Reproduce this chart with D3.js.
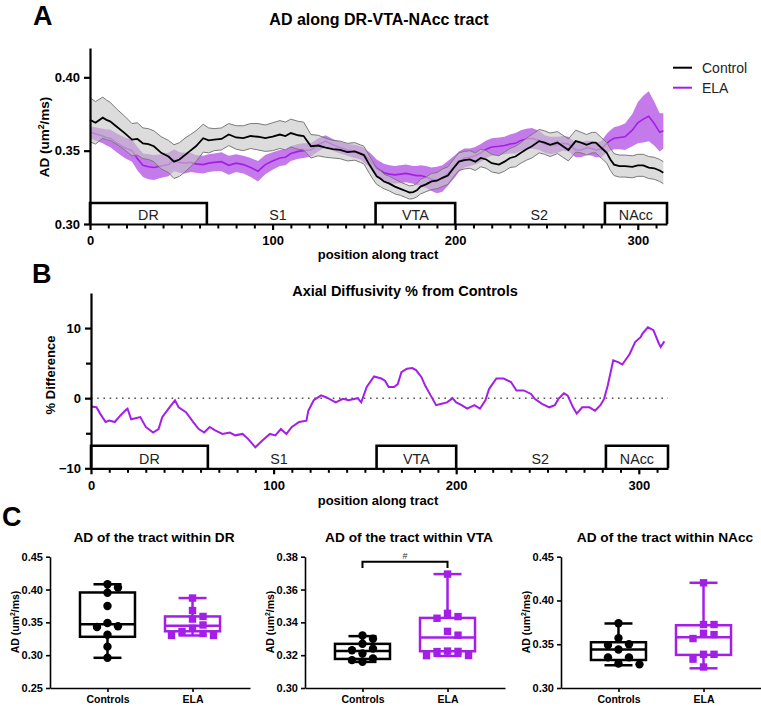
<!DOCTYPE html>
<html><head><meta charset="utf-8">
<script src="https://cdn.jsdelivr.net/npm/d3@7"></script>
<style>body{margin:0;background:#fff} svg{display:block}</style>
</head><body><svg id="c" width="761" height="706"></svg>
<script>
// ---------------- DATA ----------------
const tractPos = [0,3,7,9,11,15,19,23,26,29,
 32,35,39,43,46,49,52,55,58,62,
 65,68,72,76,80,84,88,92,96,100,
 104,107,110,114,117,121,125,129,133,137,
 141,145,148,150,153,155,157,159,161,164,
 167,170,173,175,177,179,181,184,187,190,
 193,196,200,202,205,208,211,214,217,220,
 224,227,230,233,236,239,242,246,249,252,
 256,259,262,266,269,272,275,277,280,283,
 285,287,290,293,297,300,303,306,309,312,
 314];
const ctrlMean = [.371,.369,.3725,.371,.370,.366,.362,.3575,.358,.355,
 .3545,.353,.3485,.346,.3425,.344,.347,.350,.353,.3585,
 .357,.3575,.358,.361,.359,.3585,.360,.3595,.3585,.3595,
 .361,.360,.362,.3605,.360,.353,.3535,.352,.351,.3505,
 .349,.3495,.348,.347,.3405,.3365,.3325,.331,.329,.3275,
 .3255,.324,.3225,.3215,.3218,.323,.3255,.327,.329,.3295,
 .3315,.333,.3395,.3425,.3435,.344,.3425,.345,.344,.3415,
 .3405,.3425,.345,.346,.3485,.351,.353,.3565,.3555,.354,
 .3555,.353,.3505,.3565,.3555,.354,.3555,.3555,.352,.3485,
 .344,.3405,.3395,.3395,.339,.340,.340,.3385,.338,.3365,
 .335];
const ctrlSem = [.015,.0145,.014,.0135,.013,.012,.0115,.011,.011,.0105,
 .0105,.0105,.011,.011,.0115,.0115,.0115,.011,.0105,.0095,
 .0085,.0075,.0075,.0075,.008,.0085,.0085,.009,.009,.0095,
 .0095,.0095,.0095,.0095,.0095,.008,.007,.0065,.006,.006,
 .006,.006,.006,.006,.006,.006,.0055,.0055,.005,.005,
 .005,.0045,.0045,.0045,.0045,.0045,.005,.005,.0055,.0055,
 .006,.006,.006,.006,.006,.006,.006,.006,.006,.006,
 .006,.0065,.0065,.007,.007,.0075,.008,.008,.008,.008,
 .0075,.0075,.0075,.0075,.007,.007,.007,.007,.007,.007,
 .0075,.0075,.0075,.0075,.0075,.0075,.0075,.0075,.0075,.0075,
 .0075];
const elaMean = [.3625,.3615,.360,.359,.3585,.355,.352,.350,.3445,.340,
 .339,.3385,.3395,.3405,.3435,.342,.3415,.342,.341,.3405,
 .3415,.342,.3425,.340,.3415,.3405,.3385,.336,.3405,.343,
 .345,.3455,.348,.3495,.350,.3505,.354,.3565,.354,.352,
 .3505,.3495,.3485,.347,.344,.341,.338,.3365,.335,.334,
 .3335,.334,.3345,.334,.3335,.333,.333,.332,.3305,.330,
 .331,.3345,.3395,.3425,.345,.3455,.3465,.3485,.351,.3525,
 .353,.3535,.3545,.355,.357,.358,.3585,.357,.3545,.3535,
 .354,.355,.3545,.3505,.3505,.352,.3515,.3505,.351,.355,
 .357,.3585,.359,.3595,.364,.369,.3715,.3735,.3685,.3625,
 .3635];
const elaSem = [.004,.0045,.005,.0055,.006,.0065,.007,.0075,.008,.008,
 .0085,.0085,.008,.008,.0075,.007,.007,.0065,.006,.006,
 .006,.006,.0065,.0065,.006,.006,.0065,.007,.0065,.006,
 .0055,.0055,.005,.005,.005,.0045,.0045,.004,.004,.004,
 .004,.0045,.0045,.005,.005,.0055,.006,.006,.006,.006,
 .006,.006,.006,.006,.006,.0065,.007,.0075,.008,.009,
 .009,.0085,.0075,.007,.0065,.006,.006,.006,.006,.006,
 .006,.006,.0065,.007,.007,.007,.007,.0065,.006,.006,
 .0055,.005,.005,.005,.005,.005,.005,.005,.0055,.0065,
 .007,.0075,.008,.009,.011,.014,.016,.017,.015,.013,
 .012];
const diffPos = [0,3,5,8,10,13,16,19,20,22,
 27,30,34,37,39,43,46,48,52,56,
 59,62,65,68,72,76,79,83,86,90,
 94,98,101,104,107,110,114,118,119,122,
 126,129,134,138,141,146,148,151,155,159,
 161,163,166,168,170,173,176,178,181,183,
 186,189,192,195,198,200,203,206,210,213,
 216,218,222,226,230,233,237,241,243,247,
 251,254,256,259,261,264,266,269,273,276,
 279,281,283,286,289,291,295,298,301,302,
 305,308,311,312,314];
const diffVal = [-1.2,-1.3,-2.2,-3.4,-3.2,-3.4,-2.5,-1.7,-1.5,-3.0,
 -2.7,-4.1,-4.9,-4.4,-2.7,-1.3,-0.3,-1.3,-2.0,-3.4,
 -4.4,-4.9,-4.1,-4.6,-5.1,-4.9,-5.3,-5.1,-5.8,-7.0,
 -6.0,-5.1,-5.3,-4.4,-5.1,-4.1,-3.4,-3.2,-1.8,-0.3,
 0.4,0.1,-0.6,-0.1,-0.3,0.0,-0.6,1.6,3.1,2.8,
 2.5,1.6,1.6,2.0,3.7,4.2,4.3,4.0,3.0,1.8,
 0.4,-1.0,-0.8,-0.6,0.0,-0.6,-1.0,-1.5,-1.0,-1.5,
 -0.3,1.3,2.8,2.8,2.3,1.1,1.1,0.6,-0.1,-0.8,
 -1.3,-1.0,-0.1,0.7,0.4,-1.3,-2.2,-1.3,-1.3,-1.8,
 -1.0,-0.1,1.8,5.4,5.1,4.8,6.3,8.0,8.7,9.2,
 10.1,9.7,7.8,7.3,8.1];

const regionNames = ["DR","VTA","NAcc"];
const regionStart = [0,156.4,282];
const regionEnd = [64,200,316];
const gapNames = ["S1","S2"];
const gapPos = [103,246];
const xTicks = [0,100,200,300];
const adTicks = [0.30,0.35,0.40];
const diffTicks = [-10,0,10];
const diffMinor = [-5,5];

const groups = ["Controls","ELA"];
const drCtrl = [0.408,0.403,0.395,0.375,0.349,0.344,0.343,0.331,0.313,0.296];
const drEla = [0.387,0.368,0.359,0.355,0.346,0.341,0.336,0.333,0.330,0.330];
const drCtrlBox = [0.296,0.328,0.347,0.3955,0.408];
const drElaBox = [0.330,0.3364,0.345,0.359,0.387];
const vtaCtrl = [0.332,0.330,0.327,0.324,0.323,0.321,0.318,0.317,0.316];
const vtaEla = [0.3694,0.3455,0.3435,0.3425,0.3345,0.3322,0.3225,0.3223,0.3222,0.3198,0.3197];
const vtaCtrlBox = [0.3159,0.3177,0.3226,0.3269,0.3316];
const vtaElaBox = [0.3195,0.3224,0.3307,0.3427,0.3694];
const naccCtrl = [0.374,0.357,0.350,0.349,0.344,0.335,0.335,0.328,0.327];
const naccEla = [0.4202,0.3725,0.3725,0.3625,0.361,0.3565,0.3385,0.3385,0.333,0.324];
const naccCtrlBox = [0.326,0.332,0.3439,0.3523,0.3737];
const naccElaBox = [0.3225,0.3378,0.358,0.3717,0.4202];
const drTicks = [0.25,0.30,0.35,0.40,0.45];
const vtaTicks = [0.30,0.32,0.34,0.36,0.38];
const naccTicks = [0.30,0.35,0.40,0.45];

// ---------------- DRAW ----------------
const FONT = '"Liberation Sans", Arial, Helvetica, sans-serif';
const PURPLE = "#A31FE8";
const svg = d3.select("#c").attr("font-family", FONT);

function styleAxis(g, w, fs, bold=true) {
  g.attr("font-family", FONT).attr("font-size", fs).attr("font-weight", bold ? "bold" : "normal");
  g.select(".domain").attr("stroke", "#000").attr("stroke-width", w);
  g.selectAll(".tick line").attr("stroke", "#000").attr("stroke-width", w);
  g.selectAll(".tick text").attr("fill", "#000");
}
function txt(x, y, s, fs, opts={}) {
  const t = svg.append("text").attr("x", x).attr("y", y).attr("font-size", fs)
    .attr("font-weight", opts.weight || "bold").attr("text-anchor", opts.anchor || "middle")
    .attr("fill", opts.fill || "#000").text(s);
  return t;
}
function adLabel(cx, cy, fs) {
  const t = svg.append("text").attr("transform", `translate(${cx},${cy}) rotate(-90)`)
    .attr("text-anchor", "middle").attr("font-size", fs).attr("font-weight", "bold")
    .attr("dy", "0.35em");
  t.append("tspan").text("AD (um");
  t.append("tspan").attr("font-size", fs * 0.65).attr("dy", -fs * 0.38).text("2");
  t.append("tspan").attr("dy", fs * 0.38).text("/ms)");
}

function tractPanel(xS, yS, axisY, boxH) {
  const gx = svg.append("g").attr("transform", `translate(0,${axisY})`)
    .call(d3.axisBottom(xS).tickValues(xTicks).tickSize(6).tickSizeOuter(0).tickPadding(6).tickFormat(d3.format("d")));
  styleAxis(gx, 2.2, 13);
  const minor = d3.range(10, 316, 10).filter(v => v % 100 !== 0);
  const gm = svg.append("g").attr("transform", `translate(0,${axisY})`)
    .call(d3.axisBottom(xS).tickValues(minor).tickSize(4.5).tickSizeOuter(0).tickFormat(""));
  gm.select(".domain").remove();
  gm.selectAll(".tick line").attr("stroke", "#000").attr("stroke-width", 2);
  regionNames.forEach((n, i) => {
    const x0 = xS(regionStart[i]), x1 = xS(regionEnd[i]), yt = axisY - boxH;
    svg.append("path").attr("d", `M${x0},${axisY}V${yt}H${x1}V${axisY}`)
      .attr("fill", "none").attr("stroke", "#000").attr("stroke-width", 2.6);
    txt((x0 + x1) / 2, axisY - 4, n, 14.3, {weight: "normal", fill: "#222"});
  });
  gapNames.forEach((n, i) => txt(xS(gapPos[i]), axisY - 4, n, 14.3, {weight: "normal", fill: "#222"}));
}

// ---- Panel A ----
const xA = d3.scaleLinear().domain([0, 316]).range([90, 667]);
const yA = d3.scaleLinear().domain([0.30, 0.42]).range([224, 48]);
const idx = d3.range(tractPos.length);
svg.append("path").datum(idx)
  .attr("d", d3.area().x(i => xA(tractPos[i])).y0(i => yA(elaMean[i] - elaSem[i])).y1(i => yA(elaMean[i] + elaSem[i])))
  .attr("fill", "#A83BE0").attr("fill-opacity", 0.68);
svg.append("path").datum(idx)
  .attr("d", d3.line().x(i => xA(tractPos[i])).y(i => yA(elaMean[i])))
  .attr("fill", "none").attr("stroke", PURPLE).attr("stroke-width", 1.6);
svg.append("path").datum(idx)
  .attr("d", d3.area().x(i => xA(tractPos[i])).y0(i => yA(ctrlMean[i] - ctrlSem[i])).y1(i => yA(ctrlMean[i] + ctrlSem[i])))
  .attr("fill", "#c6c6c6").attr("fill-opacity", 0.62);
[-1, 1].forEach(s => svg.append("path").datum(idx)
  .attr("d", d3.line().x(i => xA(tractPos[i])).y(i => yA(ctrlMean[i] + s * ctrlSem[i])))
  .attr("fill", "none").attr("stroke", "#7a7a7a").attr("stroke-width", 1));
svg.append("path").datum(idx)
  .attr("d", d3.line().x(i => xA(tractPos[i])).y(i => yA(ctrlMean[i])))
  .attr("fill", "none").attr("stroke", "#000").attr("stroke-width", 1.8);

tractPanel(xA, yA, 224, 21);
const gyA = svg.append("g").attr("transform", "translate(90,0)")
  .call(d3.axisLeft(yA).tickValues(adTicks).tickSize(6).tickSizeOuter(0).tickPadding(4).tickFormat(d3.format(".2f")));
styleAxis(gyA, 2.2, 13);
adLabel(44, 137, 13.5);
txt(379, 25, "AD along DR-VTA-NAcc tract", 16);
txt(378, 259, "position along tract", 13);
txt(33, 25, "A", 27, {anchor: "start"});
[["Control", "#000", 67.7], ["ELA", PURPLE, 87.7]].forEach(([n, c, y]) => {
  svg.append("line").attr("x1", 673).attr("x2", 692).attr("y1", y).attr("y2", y).attr("stroke", c).attr("stroke-width", 2);
  txt(702, y + 5, n, 14, {anchor: "start", weight: "normal", fill: "#222"});
});

// ---- Panel B ----
const xB = d3.scaleLinear().domain([0, 316]).range([91, 668]);
const yB = d3.scaleLinear().domain([-10, 15]).range([468.3, 293]);
svg.append("line").attr("x1", xB(0)).attr("x2", xB(316)).attr("y1", yB(0)).attr("y2", yB(0))
  .attr("stroke", "#555").attr("stroke-width", 1.6).attr("stroke-dasharray", "1.6,4.6");
svg.append("path").datum(d3.range(diffPos.length))
  .attr("d", d3.line().x(i => xB(diffPos[i])).y(i => yB(diffVal[i])))
  .attr("fill", "none").attr("stroke", PURPLE).attr("stroke-width", 2);
tractPanel(xB, yB, 468.3, 22.6);
const gyB = svg.append("g").attr("transform", "translate(91,0)")
  .call(d3.axisLeft(yB).tickValues(diffTicks).tickSize(6).tickSizeOuter(0).tickPadding(4).tickFormat(d3.format("d")));
styleAxis(gyB, 2.2, 13);
const gyB2 = svg.append("g").attr("transform", "translate(91,0)")
  .call(d3.axisLeft(yB).tickValues(diffMinor).tickSize(5).tickSizeOuter(0).tickFormat(""));
gyB2.select(".domain").remove();
gyB2.selectAll(".tick line").attr("stroke", "#000").attr("stroke-width", 2.2);
svg.append("text").attr("transform", "translate(50,375) rotate(-90)").attr("text-anchor", "middle")
  .attr("dy", "0.35em").attr("font-size", 13).attr("font-weight", "bold").text("% Difference");
txt(405, 296, "Axial Diffusivity % from Controls", 14.5);
txt(378, 505, "position along tract", 13);
txt(32, 282.5, "B", 27, {anchor: "start"});

// ---- Panel C ----
function swarm(vals, y, cx, step, size) {
  const order = d3.range(vals.length).sort((a, b) => vals[b] - vals[a]);
  const placed = [], out = new Array(vals.length);
  for (const i of order) {
    const py = y(vals[i]);
    for (let k = 0; k < 30; k++) {
      const off = k === 0 ? 0 : (k % 2 ? Math.ceil(k / 2) : -Math.ceil(k / 2));
      const px = cx + off * step;
      if (!placed.some(p => Math.abs(p[0] - px) < size && Math.abs(p[1] - py) < size)) {
        placed.push([px, py]); out[i] = [px, py]; break;
      }
    }
  }
  return out;
}
function boxPanel(x0, dom, ticks, title, ctrl, ela, ctrlBox, elaBox, sig) {
  const y = d3.scaleLinear().domain(dom).range([688, 556.7]);
  const x = d3.scalePoint().domain(groups).range([x0, x0 + 200]).padding(0.676);
  const gx = svg.append("g").attr("transform", "translate(0,688)")
    .call(d3.axisBottom(x).tickSize(4).tickSizeOuter(0).tickPadding(4));
  styleAxis(gx, 1.6, 10.5);
  const gy = svg.append("g").attr("transform", `translate(${x0},0)`)
    .call(d3.axisLeft(y).tickValues(ticks).tickSize(4).tickSizeOuter(0).tickPadding(3).tickFormat(d3.format(".2f")));
  styleAxis(gy, 1.6, 11);
  adLabel(x0 - 35, 622, 10.5);
  txt(x0 + 104, 542, title, 13.7);
  [[ctrlBox, "#000", ctrl, "Controls"], [elaBox, PURPLE, ela, "ELA"]].forEach(([b, c, pts, g]) => {
    const cx = x(g), w = 55, cap = 28;
    const sw = 2.5;
    svg.append("rect").attr("x", cx - w / 2).attr("y", y(b[3])).attr("width", w).attr("height", y(b[1]) - y(b[3]))
      .attr("fill", "#fff").attr("stroke", c).attr("stroke-width", sw);
    svg.append("line").attr("x1", cx - w / 2).attr("x2", cx + w / 2).attr("y1", y(b[2])).attr("y2", y(b[2])).attr("stroke", c).attr("stroke-width", sw);
    svg.append("line").attr("x1", cx).attr("x2", cx).attr("y1", y(b[3])).attr("y2", y(b[4])).attr("stroke", c).attr("stroke-width", sw);
    svg.append("line").attr("x1", cx).attr("x2", cx).attr("y1", y(b[1])).attr("y2", y(b[0])).attr("stroke", c).attr("stroke-width", sw);
    [b[0], b[4]].forEach(v => svg.append("line").attr("x1", cx - cap / 2).attr("x2", cx + cap / 2).attr("y1", y(v)).attr("y2", y(v)).attr("stroke", c).attr("stroke-width", sw));
    const pos = swarm(pts, y, cx, 10.5, 8);
    pos.forEach(p => {
      if (g === "Controls") svg.append("circle").attr("cx", p[0]).attr("cy", p[1]).attr("r", 4.2).attr("fill", c);
      else svg.append("rect").attr("x", p[0] - 3.7).attr("y", p[1] - 3.7).attr("width", 7.4).attr("height", 7.4).attr("fill", c);
    });
  });
  if (sig) {
    const xa = x("Controls"), xb = x("ELA");
    svg.append("path").attr("d", `M${xa},568V561.7H${xb}V568`).attr("fill", "none").attr("stroke", "#000").attr("stroke-width", 2);
    txt((xa + xb) / 2, 559, sig, 9, {weight: "normal", fill: "#333"});
  }
}
boxPanel(50, [0.25, 0.45], drTicks, "AD of the tract within DR", drCtrl, drEla, drCtrlBox, drElaBox, null);
boxPanel(305, [0.30, 0.38], vtaTicks, "AD of the tract within VTA", vtaCtrl, vtaEla, vtaCtrlBox, vtaElaBox, "#");
boxPanel(561, [0.30, 0.45], naccTicks, "AD of the tract within NAcc", naccCtrl, naccEla, naccCtrlBox, naccElaBox, null);
txt(2, 526, "C", 27, {anchor: "start"});
</script></body></html>
